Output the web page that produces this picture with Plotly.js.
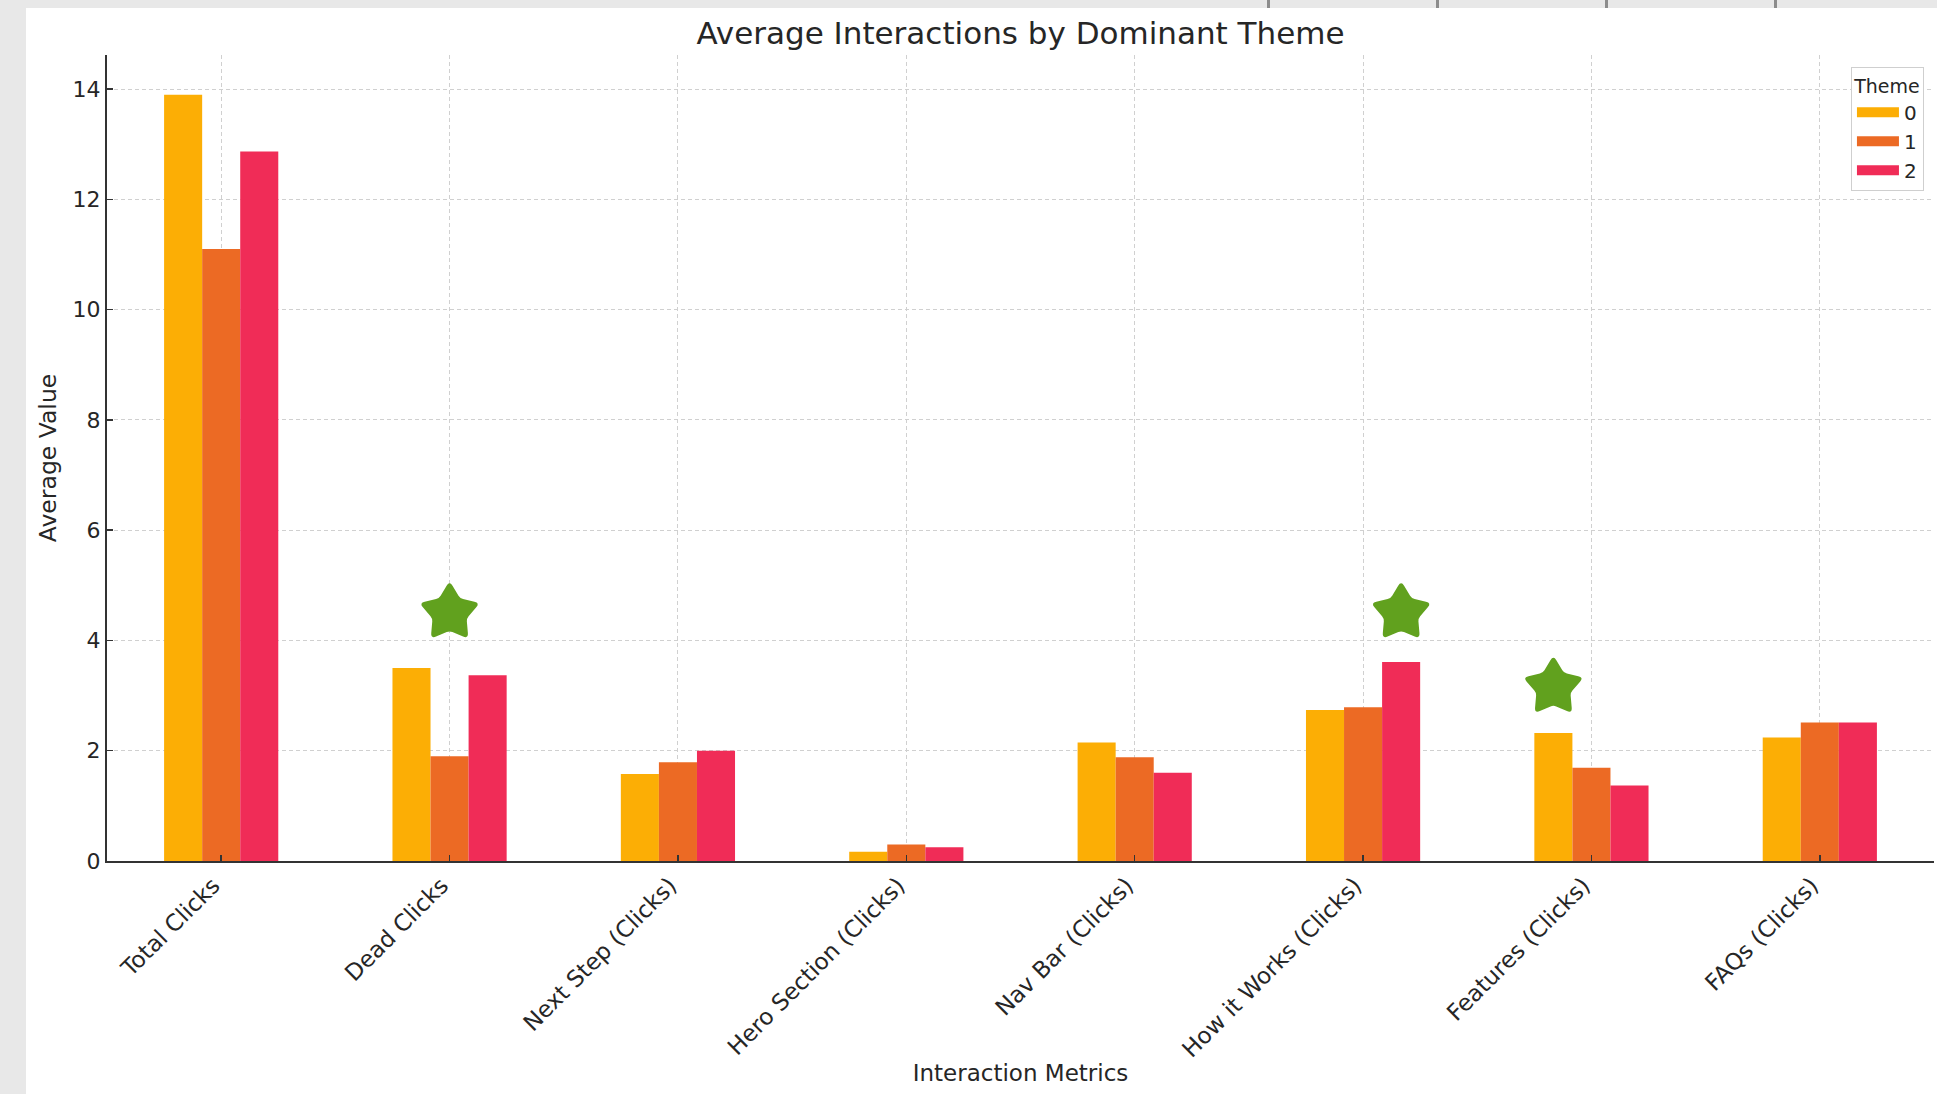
<!DOCTYPE html>
<html>
<head>
<meta charset="utf-8">
<script src="https://cdn.plot.ly/plotly-3.0.1.min.js"></script>
<style>
  html, body { margin: 0; padding: 0; width: 1937px; height: 1094px; overflow: hidden; background: #e8e8e8; }
  #chart { position: absolute; left: 26px; top: 8px; width: 1911px; height: 1086px; background: #ffffff; }
  .tab { position: absolute; top: 0; width: 3px; height: 8px; background: #8c8c8c; }
</style>
</head>
<body>
<div class="tab" style="left:1267px"></div>
<div class="tab" style="left:1436px"></div>
<div class="tab" style="left:1605px"></div>
<div class="tab" style="left:1774px"></div>
<div id="chart"></div>
<script>
// Interaction metrics (x categories)
const metrics = [
  "Total Clicks", "Dead Clicks", "Next Step (Clicks)", "Hero Section (Clicks)",
  "Nav Bar (Clicks)", "How it Works (Clicks)", "Features (Clicks)", "FAQs (Clicks)"
];
// Dominant theme groups
const themes = ["0", "1", "2"];
// Average value per metric for each theme
const theme0 = [13.90, 3.50, 1.58, 0.17, 2.15, 2.74, 2.32, 2.24];
const theme1 = [11.10, 1.90, 1.79, 0.30, 1.88, 2.79, 1.69, 2.51];
const theme2 = [12.87, 3.37, 2.00, 0.25, 1.60, 3.61, 1.37, 2.51];
const themeValues = [theme0, theme1, theme2];
const themeColors = ["#FCAE05", "#EC6A24", "#F02C57"];
const yTicks = [0, 2, 4, 6, 8, 10, 12, 14];

// Highlighted bars: which metric, which theme, and the height of the star marker centre
const starMetrics = ["Dead Clicks", "How it Works (Clicks)", "Features (Clicks)"];
const starThemes = [1, 2, 0];
const starLevels = [4.50, 4.50, 3.15];
const starColor = "#61A11E";

const FONT = "DejaVu Sans, Liberation Sans, sans-serif";
const TEXT = "#262626";
const barGap = 0.5;
const barWidth = (1 - barGap) / themes.length;
const idx = metrics.map((_, i) => i);

// Rounded five-point star as a pixel path (y up), centred on its anchor
function roundedStarPath(R, ratio, fOuter, fInner) {
  const pts = [];
  for (let i = 0; i < 10; i++) {
    const a = Math.PI / 2 + i * Math.PI / 5;
    const r = i % 2 === 0 ? R : R * ratio;
    pts.push([r * Math.cos(a), r * Math.sin(a)]);
  }
  const n = pts.length;
  let d = "";
  for (let i = 0; i < n; i++) {
    const v = pts[i], p = pts[(i + n - 1) % n], q = pts[(i + 1) % n];
    const f = i % 2 === 0 ? fOuter : fInner;
    const A = [v[0] + (p[0] - v[0]) * f, v[1] + (p[1] - v[1]) * f];
    const B = [v[0] + (q[0] - v[0]) * f, v[1] + (q[1] - v[1]) * f];
    d += (i === 0 ? "M" : "L") + A[0].toFixed(2) + "," + A[1].toFixed(2);
    d += "Q" + v[0].toFixed(2) + "," + v[1].toFixed(2) + " " + B[0].toFixed(2) + "," + B[1].toFixed(2);
  }
  return d + "Z";
}
const starPath = roundedStarPath(32, 0.56, 0.28, 0.15);

const traces = [];
themes.forEach((t, k) => {
  traces.push({
    type: "bar",
    x: idx,
    y: themeValues[k],
    name: t,
    legendgroup: t,
    showlegend: false,
    marker: { color: themeColors[k], line: { width: 0 } },
    hoverinfo: "x+y+name"
  });
});
// Legend entries drawn as wide colour swatches
themes.forEach((t, k) => {
  traces.push({
    type: "scatter",
    mode: "lines",
    x: [null], y: [null],
    name: t,
    legendgroup: t,
    line: { color: themeColors[k], width: 13 },
    hoverinfo: "skip"
  });
});

const starShapes = starMetrics.map((m, i) => ({
  type: "path",
  xref: "x", yref: "y",
  xsizemode: "pixel", ysizemode: "pixel",
  xanchor: metrics.indexOf(m) + (starThemes[i] - (themes.length - 1) / 2) * barWidth,
  yanchor: starLevels[i],
  path: starPath,
  fillcolor: starColor,
  line: { width: 0 },
  layer: "above"
}));

const layout = {
  width: 1911,
  height: 1086,
  margin: { l: 81, r: 3, t: 47, b: 233 },
  paper_bgcolor: "#ffffff",
  plot_bgcolor: "#ffffff",
  font: { family: FONT, color: TEXT, size: 22 },
  barmode: "group",
  bargap: barGap,
  bargroupgap: 0,
  shapes: starShapes,
  title: {
    text: "Average Interactions by Dominant Theme",
    font: { family: FONT, size: 31, color: TEXT },
    x: 0.5, xref: "paper", xanchor: "center",
    y: 1 - 25 / 1086, yref: "container", yanchor: "middle"
  },
  xaxis: {
    range: [-0.5, 7.5],
    tickmode: "array",
    tickvals: idx,
    ticktext: metrics,
    tickangle: -45,
    ticklabelshift: -8,
    tickfont: { family: FONT, size: 23, color: TEXT },
    ticks: "inside", ticklen: 6, tickwidth: 1.5, tickcolor: "#333333",
    showline: true, linecolor: "#333333", linewidth: 2,
    showgrid: true, gridcolor: "#d0d0d0", gridwidth: 1, griddash: "4px,3px",
    zeroline: false,
    title: { text: "Interaction Metrics", font: { family: FONT, size: 23, color: TEXT }, standoff: 4 }
  },
  yaxis: {
    range: [0, 14.62],
    tickmode: "array",
    tickvals: yTicks,
    tickfont: { family: FONT, size: 22, color: TEXT },
    ticks: "inside", ticklen: 6, tickwidth: 1.5, tickcolor: "#333333",
    showline: true, linecolor: "#333333", linewidth: 2,
    showgrid: true, gridcolor: "#d0d0d0", gridwidth: 1, griddash: "4px,3px",
    zeroline: false,
    title: { text: "Average Value", font: { family: FONT, size: 23.5, color: TEXT }, standoff: 9 }
  },
  legend: {
    x: 0.9945, xanchor: "right",
    y: 0.985, yanchor: "top",
    bgcolor: "#ffffff",
    bordercolor: "#cfcfcf",
    borderwidth: 1,
    font: { family: FONT, size: 20, color: TEXT },
    title: { text: "Theme", side: "top center", font: { family: FONT, size: 19, color: TEXT } },
    itemwidth: 42,
    tracegroupgap: 0
  }
};

Plotly.newPlot("chart", traces, layout, { displayModeBar: false, staticPlot: true });
</script>
</body>
</html>
